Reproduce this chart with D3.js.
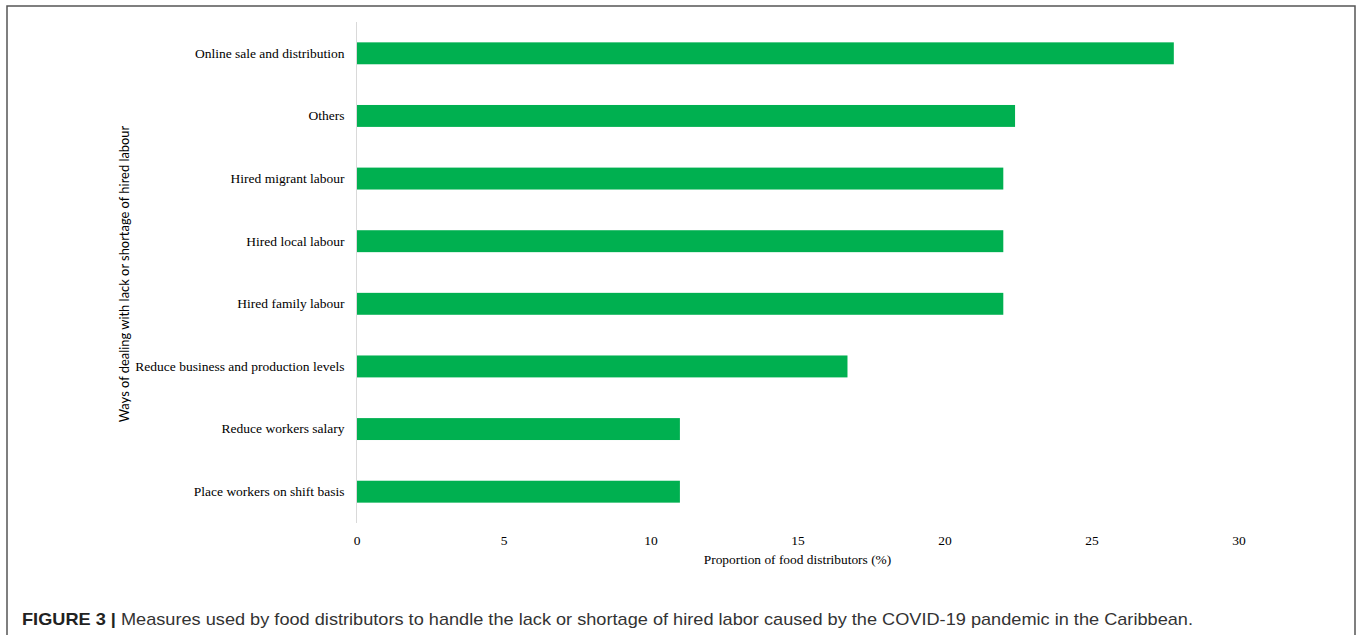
<!DOCTYPE html>
<html>
<head>
<meta charset="utf-8">
<script src="https://cdn.jsdelivr.net/npm/d3@7/dist/d3.min.js"></script>
<style>
  html, body { margin: 0; padding: 0; background: #fff; }
  svg { display: block; }
</style>
</head>
<body>
<svg id="chart" width="1358" height="635"></svg>
<script>
// Measures taken by food distributors (share of respondents, %)
const categories = [
  "Online sale and distribution",
  "Others",
  "Hired migrant labour",
  "Hired local labour",
  "Hired family labour",
  "Reduce business and production levels",
  "Reduce workers salary",
  "Place workers on shift basis"
];
const values = [27.8, 22.4, 22.0, 22.0, 22.0, 16.7, 11.0, 11.0];
const xTicks = [0, 5, 10, 15, 20, 25, 30];

const xTitle = "Proportion of food distributors (%)";
const yTitle = "Ways of dealing with lack or shortage of hired labour";
const captionLead = "FIGURE 3 |";
const captionBody = " Measures used by food distributors to handle the lack or shortage of hired labor caused by the COVID-19 pandemic in the Caribbean.";

const svg = d3.select("#chart");

// outer frame
svg.append("rect")
  .attr("x", 7).attr("y", 6)
  .attr("width", 1348).attr("height", 640)
  .attr("fill", "none")
  .attr("stroke", "#555")
  .attr("stroke-width", 1.5);

const plot = { left: 356.5, right: 1238.5, top: 22, bottom: 523 };

const x = d3.scaleLinear().domain([0, 30]).range([plot.left, plot.right]);
const y = d3.scaleBand().domain(categories).range([plot.top, plot.bottom]).paddingInner(0.65).paddingOuter(0.325);

const serif = "'Liberation Serif', 'Times New Roman', serif";

// bars
svg.append("g").selectAll("rect")
  .data(categories)
  .join("rect")
  .attr("x", x(0))
  .attr("y", d => y(d))
  .attr("width", (d, i) => x(values[i]) - x(0))
  .attr("height", y.bandwidth())
  .attr("fill", "#00b050");

// vertical category axis line
svg.append("line")
  .attr("x1", x(0)).attr("x2", x(0))
  .attr("y1", plot.top).attr("y2", plot.bottom)
  .attr("stroke", "#d9d9d9").attr("stroke-width", 1);

// category labels
const yAxis = d3.axisLeft(y).tickSize(0).tickPadding(12);
const gy = svg.append("g").attr("transform", `translate(${x(0)},0)`).call(yAxis);
gy.select(".domain").remove();
gy.selectAll("text")
  .attr("font-family", serif)
  .attr("font-size", 13.5)
  .attr("fill", "#000");

// value axis labels
const xAxis = d3.axisBottom(x).tickValues(xTicks).tickSize(0).tickPadding(12);
const gx = svg.append("g").attr("transform", `translate(0,${plot.bottom})`).call(xAxis);
gx.select(".domain").remove();
gx.selectAll("text")
  .attr("font-family", serif)
  .attr("font-size", 13.5)
  .attr("fill", "#000");

// axis titles
svg.append("text")
  .attr("x", (plot.left + plot.right) / 2)
  .attr("y", 564)
  .attr("text-anchor", "middle")
  .attr("font-family", serif)
  .attr("font-size", 13.4)
  .attr("fill", "#000")
  .text(xTitle);

svg.append("text")
  .attr("transform", "translate(129,274) rotate(-90)")
  .attr("text-anchor", "middle")
  .attr("font-family", "Lato, 'Open Sans', sans-serif")
  .attr("font-size", 12.9)
  .attr("fill", "#000")
  .text(yTitle);

// caption
const cap = svg.append("text")
  .attr("x", 22)
  .attr("y", 625)
  .attr("font-family", "'Liberation Sans', Arial, sans-serif")
  .attr("font-size", 17)
  .attr("fill", "#333");
cap.append("tspan").attr("font-weight", "bold").attr("fill", "#222").text(captionLead);
cap.append("tspan").text(captionBody);
cap.attr("textLength", 1171).attr("lengthAdjust", "spacingAndGlyphs");
</script>
</body>
</html>
